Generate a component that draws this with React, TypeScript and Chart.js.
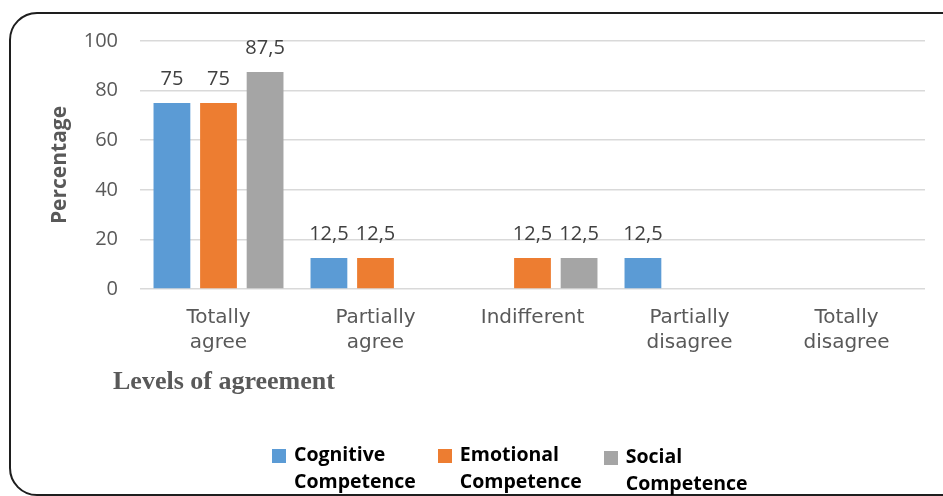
import React, { useEffect, useRef } from "react";
import { Chart, registerables } from "chart.js";

Chart.register(...registerables);

const categories = [
  ["Totally", "agree"],
  ["Partially", "agree"],
  "Indifferent",
  ["Partially", "disagree"],
  ["Totally", "disagree"],
];
const cognitive = [75, 12.5, 0, 12.5, 0];
const emotional = [75, 12.5, 12.5, 0, 0];
const social = [87.5, 0, 12.5, 0, 0];
const seriesNames = ["Cognitive Competence", "Emotional Competence", "Social Competence"];
const seriesColors = ["#5B9BD5", "#ED7D31", "#A5A5A5"];
const yTicks = [0, 20, 40, 60, 80, 100];

const valueLabels = {
  id: "valueLabels",
  afterDatasetsDraw(chart: any) {
    const ctx = chart.ctx;
    ctx.save();
    ctx.font = "20px 'Open Sans'";
    ctx.fillStyle = "#404040";
    ctx.textAlign = "center";
    ctx.textBaseline = "alphabetic";
    chart.data.datasets.forEach((ds: any, i: number) => {
      const meta = chart.getDatasetMeta(i);
      meta.data.forEach((el: any, j: number) => {
        const v = ds.data[j];
        if (!v) return;
        ctx.fillText(String(v).replace(".", ","), el.x, el.y - 18);
      });
    });
    ctx.restore();
  },
};

export default function App() {
  const ref = useRef<HTMLCanvasElement>(null);
  useEffect(() => {
    document.body.style.overflow = "hidden";
    const data = [cognitive, emotional, social];
    const chart = new Chart(ref.current!, {
      type: "bar",
      data: {
        labels: categories as any,
        datasets: seriesNames.map((n, i) => ({
          label: n,
          data: data[i],
          backgroundColor: seriesColors[i],
          categoryPercentage: 0.89,
          barPercentage: 0.79,
        })),
      },
      options: {
        animation: false,
        responsive: true,
        maintainAspectRatio: false,
        layout: { padding: { left: 40, right: 18, top: 41, bottom: 127 } },
        plugins: { legend: { display: false }, tooltip: { enabled: false } },
        scales: {
          x: {
            grid: { display: false, drawTicks: false },
            border: { display: false },
            ticks: {
              color: "#595959",
              font: { family: "'DejaVu Sans'", size: 20, lineHeight: 1.25 },
              padding: 16,
              maxRotation: 0,
              autoSkip: false,
            },
            afterFit: (s: any) => {
              s.height = 80;
            },
          },
          y: {
            min: 0,
            max: 100,
            afterBuildTicks: (s: any) => {
              s.ticks = yTicks.map((v) => ({ value: v }));
            },
            grid: { color: "#D9D9D9", lineWidth: 1.5, drawTicks: false },
            border: { display: false },
            ticks: {
              color: "#595959",
              font: { family: "'Open Sans'", size: 20 },
              padding: 22,
            },
            title: {
              display: true,
              text: "Percentage",
              color: "#595959",
              font: { family: "'Open Sans'", size: 21, weight: "bold" },
              padding: { top: 7, bottom: 0 },
            },
            afterFit: (s: any) => {
              s.width = 100;
            },
          },
        },
      },
      plugins: [valueLabels],
    });
    return () => chart.destroy();
  }, []);

  return (
    <div
      style={{
        position: "fixed",
        left: 0,
        top: 0,
        width: 943,
        height: 496,
        overflow: "hidden",
        background: "#fff",
      }}
    >
      <div
        style={{
          position: "absolute",
          left: 9,
          top: 12,
          width: 960,
          height: 480,
          border: "2px solid #1e1e1e",
          borderRadius: 28,
        }}
      />
      <div style={{ position: "absolute", left: 0, top: 0, width: 943, height: 496 }}>
        <canvas ref={ref} />
      </div>
      <div
        style={{
          position: "absolute",
          left: 113,
          top: 366,
          fontFamily: "'Liberation Serif', serif",
          fontWeight: "bold",
          fontSize: 26,
          color: "#595959",
          whiteSpace: "nowrap",
        }}
      >
        Levels of agreement
      </div>
      <div
        style={{
          position: "absolute",
          left: 272,
          top: 440,
          display: "flex",
          gap: 22,
          fontFamily: "'Open Sans', sans-serif",
          fontWeight: "bold",
          fontSize: 19.5,
          lineHeight: "27px",
          color: "#000",
        }}
      >
        {seriesNames.map((n, i) => (
          <div
            key={n}
            style={{ display: "flex", alignItems: "flex-start", marginTop: i === 2 ? 2 : 0 }}
          >
            <div
              style={{
                width: 14,
                height: 14,
                background: seriesColors[i],
                marginTop: 9,
                marginRight: 8,
              }}
            />
            <div>
              {n.split(" ").map((w, k) => (
                <div key={k}>{w}</div>
              ))}
            </div>
          </div>
        ))}
      </div>
    </div>
  );
}
